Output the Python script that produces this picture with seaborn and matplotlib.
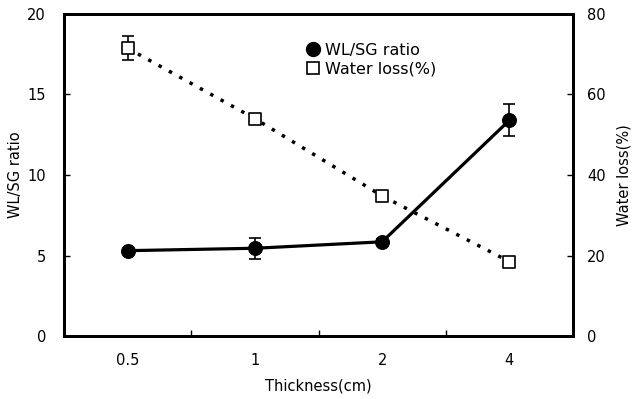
import matplotlib
matplotlib.use("Agg")
import matplotlib.pyplot as plt
from matplotlib.lines import Line2D
from matplotlib.ticker import FixedLocator
import seaborn as sns
import pandas as pd

thickness = ["0.5", "1", "2", "4"]
wl_sg_ratio = [5.3, 5.45, 5.85, 13.4]
wl_sg_err = [0.0, 0.65, 0.2, 1.0]
water_loss = [71.5, 54.0, 34.8, 18.5]
water_loss_err = [3.0, 0.0, 0.0, 0.0]

sns.set_style("white")
plt.rcParams["font.family"] = ["DejaVu Sans"]
plt.rcParams["font.size"] = 10.5
plt.rcParams["text.color"] = "black"
plt.rcParams["axes.labelcolor"] = "black"
plt.rcParams["xtick.color"] = "black"
plt.rcParams["ytick.color"] = "black"

df = pd.DataFrame({
    "pos": list(range(len(thickness))),
    "ratio": wl_sg_ratio,
    "loss": water_loss,
})

fig = plt.figure(figsize=(6.32, 3.99), dpi=100)
ax = fig.add_axes([64 / 632, 1 - 336 / 399, (573 - 64) / 632, (336 - 14) / 399])
ax2 = ax.twinx()

sns.lineplot(data=df, x="pos", y="ratio", ax=ax, color="black", lw=2.3,
             marker="o", markersize=10, markeredgecolor="black", zorder=3)
ax.errorbar(df["pos"], wl_sg_ratio, yerr=wl_sg_err, fmt="none", ecolor="black",
            elinewidth=1.2, capsize=4.5, capthick=1.2, zorder=3)

sns.lineplot(data=df, x="pos", y="loss", ax=ax2, color="black", lw=2.5,
             dashes=False, zorder=2)
ax2.lines[-1].set_linestyle((0, (1, 2.4)))
sns.scatterplot(data=df, x="pos", y="loss", ax=ax2, marker="s", s=80,
                facecolor="white", edgecolor="black", linewidth=1.2, zorder=4)
ax2.errorbar(df["pos"], water_loss, yerr=water_loss_err, fmt="none", ecolor="black",
             elinewidth=1.2, capsize=4.5, capthick=1.2, zorder=3)

ax.set_xlim(-0.5, 3.5)
ax.set_ylim(0, 20)
ax2.set_ylim(0, 80)
ax.set_xticks(range(len(thickness)))
ax.set_xticklabels(thickness)
ax.xaxis.set_minor_locator(FixedLocator([0.5, 1.5, 2.5]))
ax.set_yticks([0, 5, 10, 15, 20])
ax2.set_yticks([0, 20, 40, 60, 80])

ax.tick_params(axis="x", which="major", length=0, pad=12)
ax.tick_params(axis="x", which="minor", direction="in", length=4, width=1, bottom=True)
ax.tick_params(axis="y", direction="in", length=4, width=1, pad=13, left=True)
ax2.tick_params(axis="y", direction="in", length=4, width=1, pad=10, right=True)

for a in (ax, ax2):
    for s in a.spines.values():
        s.set_linewidth(2.0)
        s.set_color("black")

ax.set_xlabel("Thickness(cm)", labelpad=8)
ax.set_ylabel("WL/SG ratio", labelpad=3)
ax2.set_ylabel("Water loss(%)", labelpad=8)

handles = [
    Line2D([], [], marker="o", color="black", linestyle="none", markersize=10),
    Line2D([], [], marker="s", markerfacecolor="white", markeredgecolor="black",
           linestyle="none", markersize=9, markeredgewidth=1.2),
]
ax2.legend(handles, ["WL/SG ratio", "Water loss(%)"], loc="upper left",
           bbox_to_anchor=(0.465, 0.93), frameon=False, handlelength=0.8,
           handletextpad=0.3, labelspacing=0.25, borderaxespad=0, fontsize=11.5)

fig.savefig("out.png", dpi=100)
